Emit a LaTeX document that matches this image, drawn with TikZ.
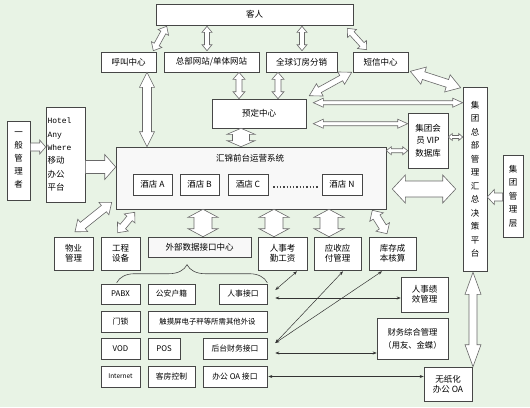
\documentclass[tikz,border=0pt]{standalone}
\usepackage{fontspec}
\setmainfont{Noto Sans CJK SC}
\newfontfamily\monof{Liberation Mono}
\usetikzlibrary{calc,decorations.pathreplacing,arrows.meta}

\definecolor{bgc}{RGB}{232,243,229}
\definecolor{edgec}{RGB}{70,70,70}
\definecolor{arrc}{RGB}{105,105,105}
\definecolor{sysfill}{RGB}{248,248,248}

\tikzset{
  box/.style={draw=edgec, fill=white, line width=0.6pt, inner sep=1pt, align=center,
    font=\fontsize{8.5pt}{10pt}\selectfont},
  smallbox/.style={box, font=\fontsize{7.8pt}{9.5pt}\selectfont},
  vbox/.style={box, font=\fontsize{8.5pt}{13.5pt}\selectfont},
  bigarr/.style={draw=arrc, fill=white, line width=0.6pt, line join=miter},
  thinarr/.style={draw=black!80, line width=0.5pt, {Stealth[length=4pt,width=3pt]}-{Stealth[length=4pt,width=3pt]}},
}

% double hollow arrow: #1 start, #2 end, #3 head length, #4 head half width, #5 shaft half width
\newcommand{\dblarr}[5]{%
 \coordinate (hpA) at ($(#1)!#3!(#2)$);
 \coordinate (hpB) at ($(#2)!#3!(#1)$);
 \draw[bigarr] (#1) -- ($(hpA)!#4!90:(#2)$) -- ($(hpA)!#5!90:(#2)$) -- ($(hpB)!#5!-90:(#1)$) -- ($(hpB)!#4!-90:(#1)$) -- (#2) -- ($(hpB)!#4!90:(#1)$) -- ($(hpB)!#5!90:(#1)$) -- ($(hpA)!#5!-90:(#2)$) -- ($(hpA)!#4!-90:(#2)$) -- cycle;}
% single hollow arrow: #1 tail, #2 tip
\newcommand{\sglarr}[5]{%
 \coordinate (hpB) at ($(#2)!#3!(#1)$);
 \draw[bigarr] ($(#1)!#5!90:(#2)$) -- ($(hpB)!#5!-90:(#1)$) -- ($(hpB)!#4!-90:(#1)$) -- (#2) -- ($(hpB)!#4!90:(#1)$) -- ($(hpB)!#5!90:(#1)$) -- ($(#1)!#5!-90:(#2)$) -- cycle;}

\begin{document}
\begin{tikzpicture}[x=1pt,y=-1pt]
\fill[bgc] (0,0) rectangle (530,407);
\useasboundingbox (0,0) rectangle (530,407);

% top row
\node[box, minimum width=197pt, minimum height=21pt] (guest) at (254.5,14.5) {客人};
\node[box, minimum width=55pt, minimum height=20pt] (hujiao) at (128.5,62) {呼叫中心};
\node[box, minimum width=95pt, minimum height=20pt] (wangzhan) at (211.5,62) {总部网站/单体网站};
\node[box, minimum width=71pt, minimum height=20pt] (quanqiu) at (301.5,62) {全球订房分销};
\node[box, minimum width=55pt, minimum height=20pt] (duanxin) at (380.5,62) {短信中心};
\node[box, minimum width=94pt, minimum height=29pt] (yuding) at (259,113.5) {预定中心};
\node[box, minimum width=40pt, minimum height=55pt, font=\fontsize{8.5pt}{12.5pt}\selectfont] (vip) at (428,140.5) {集团会\\员 VIP\\数据库};
\node[vbox, minimum width=24pt, minimum height=184pt] (hq) at (475,179) {集\\团\\总\\部\\管\\理\\汇\\总\\决\\策\\平\\台};
\node[vbox, minimum width=20pt, minimum height=82pt] (mgmt) at (513,196) {集\\团\\管\\理\\层};
\node[vbox, minimum width=23pt, minimum height=79pt, font=\fontsize{8.5pt}{13pt}\selectfont] (general) at (18.5,160.5) {一\\般\\管\\理\\者};
\node[box, minimum width=39pt, minimum height=95pt, text width=36pt, align=left, font=\fontsize{8.5pt}{13.3pt}\selectfont] (hotel) at (65.5,154.5) {{\monof\fontsize{8pt}{13.3pt}\selectfont Hotel}\\{\monof\fontsize{8pt}{13.3pt}\selectfont Any}\\{\monof\fontsize{8pt}{13.3pt}\selectfont Where}\\移动\\办公\\平台};

% main system box
\node[box, fill=sysfill, minimum width=270pt, minimum height=62pt] (sys) at (251,178) {};
\node[font=\fontsize{8.5pt}{10pt}\selectfont, inner sep=0pt] (systitle) at (250,158) {汇锦前台运营系统};
\node[box, minimum width=39pt, minimum height=21pt] (hA) at (152.5,184.5) {酒店 A};
\node[box, minimum width=39pt, minimum height=21pt] (hB) at (199.5,184.5) {酒店 B};
\node[box, minimum width=40pt, minimum height=21pt] (hC) at (248,184.5) {酒店 C};
\node[box, minimum width=40pt, minimum height=21pt] (hN) at (342,184.5) {酒店 N};
\draw[line width=1.3pt, dotted, edgec] ($(hC.east)+(5,2.5)$) -- ($(hN.west)+(-3,2.5)$);

% second level
\node[box, minimum width=39pt, minimum height=33pt] (wuye) at (73.5,253.5) {物业\\管理};
\node[box, minimum width=39pt, minimum height=33pt] (gongcheng) at (120.5,253.5) {工程\\设备};
\node[box, fill=sysfill, minimum width=103pt, minimum height=20pt] (waibu) at (199.5,247) {外部数据接口中心};
\node[box, minimum width=49pt, minimum height=33pt] (renshi) at (282.5,253.5) {人事考\\勤工资};
\node[box, minimum width=47pt, minimum height=33pt] (yingshou) at (337.5,253.5) {应收应\\付管理};
\node[box, minimum width=47pt, minimum height=33pt] (kucun) at (392.5,253.5) {库存成\\本核算};

% interfaces
\node[smallbox, minimum width=39pt, minimum height=20pt] (pabx) at (120.5,294) {PABX};
\node[smallbox, minimum width=47pt, minimum height=20pt] (gongan) at (171.5,294) {公安户籍};
\node[smallbox, minimum width=48pt, minimum height=20pt] (rsjk) at (243,294) {人事接口};
\node[smallbox, minimum width=39pt, minimum height=21pt] (mensuo) at (120.5,321.5) {门锁};
\node[smallbox, minimum width=119pt, minimum height=21pt, font=\fontsize{7.4pt}{9pt}\selectfont] (touch) at (207.5,321.5) {触摸屏电子秤等所需其他外设};
\node[smallbox, minimum width=39pt, minimum height=21pt] (vod) at (120.5,348.5) {VOD};
\node[smallbox, minimum width=32pt, minimum height=21pt] (pos) at (164,348.5) {POS};
\node[smallbox, minimum width=64pt, minimum height=21pt] (houtai) at (235,348.5) {后台财务接口};
\node[smallbox, minimum width=39pt, minimum height=21pt, font=\fontsize{6.5pt}{8pt}\selectfont] (internet) at (120.5,376.5) {Internet};
\node[smallbox, minimum width=47pt, minimum height=21pt] (kefang) at (171.5,376.5) {客房控制};
\node[smallbox, minimum width=64pt, minimum height=21pt] (oa) at (235,376.5) {办公 OA 接口};

% right lower boxes
\node[box, minimum width=47pt, minimum height=35pt] (jixiao) at (424.5,294.5) {人事绩\\效管理};
\node[box, minimum width=71pt, minimum height=41pt, font=\fontsize{8.3pt}{13pt}\selectfont] (caiwu) at (412.5,338.5) {财务综合管理\\（用友、金蝶）};
\node[box, minimum width=48pt, minimum height=34pt] (wuzhi) at (448,384) {无纸化\\办公 OA};

% brace
\coordinate (brL) at ($(pabx.north west)+(16,-1)$);
\coordinate (brR) at ($(rsjk.north east)+(0,-1)$);
\draw[edgec, line width=0.6pt, decorate, decoration={brace, amplitude=18pt, aspect=0.467}] (brL) -- (brR);

% ---------- big hollow arrows ----------
\coordinate (a1) at ($(guest.south west)+(11,1)$);
\coordinate (b1) at ($(hujiao.north east)+(-3,-1)$);
\dblarr{a1}{b1}{7pt}{6pt}{2.8pt}

\coordinate (a2) at ($(wangzhan.north)+(-4.5,-1)$);
\coordinate (b2) at ($(a2 |- guest.south)+(0,1)$);
\dblarr{b2}{a2}{6pt}{5pt}{2.5pt}

\coordinate (a3) at ($(quanqiu.north)+(0.5,-1)$);
\coordinate (b3) at ($(a3 |- guest.south)+(0,1)$);
\dblarr{b3}{a3}{6pt}{5pt}{2.5pt}

\coordinate (a4) at ($(guest.south east)+(-6,3)$);
\coordinate (b4) at ($(duanxin.north west)+(14,-2)$);
\dblarr{a4}{b4}{7pt}{6pt}{2.8pt}

\coordinate (a5) at ($(hujiao.south)+(18.5,0)$);
\coordinate (b5) at (a5 |- sys.north);
\dblarr{a5}{b5}{15pt}{7.5pt}{4.5pt}

\coordinate (a6) at ($(wangzhan.south)+(27.5,0)$);
\coordinate (b6) at (a6 |- yuding.north);
\dblarr{a6}{b6}{7pt}{6pt}{3pt}

\coordinate (a7) at ($(quanqiu.south)+(-23.5,0)$);
\coordinate (b7) at (a7 |- yuding.north);
\dblarr{a7}{b7}{7pt}{6pt}{3pt}

\coordinate (a8) at ($(duanxin.south west)+(-1,0)$);
\coordinate (b8) at ($(yuding.north east)+(3,-3)$);
\dblarr{a8}{b8}{12pt}{7pt}{3pt}

\coordinate (a9) at ($(duanxin.south east)+(2,-1)$);
\coordinate (b9) at ($(hq.north west)+(-2,1)$);
\dblarr{a9}{b9}{14pt}{9pt}{4pt}

\coordinate (a10) at ($(yuding.north east)+(7,4)$);
\coordinate (b10) at (a10 -| hq.west);
\dblarr{a10}{b10}{10pt}{4.5pt}{2pt}

\coordinate (a11) at ($(yuding.north east)+(7,25)$);
\coordinate (b11) at (a11 -| vip.west);
\dblarr{a11}{b11}{10pt}{4.5pt}{2pt}

\coordinate (a12) at ($(vip.east)+(0,-3.5)$);
\coordinate (b12) at (a12 -| hq.west);
\dblarr{a12}{b12}{4pt}{3.5pt}{1.5pt}

\coordinate (a13) at ($(yuding.south)+(-18,0)$);
\coordinate (b13) at (a13 |- sys.north);
\dblarr{a13}{b13}{6pt}{14pt}{8.5pt}

\coordinate (a14) at ($(sys.north east)+(0,4)$);
\coordinate (b14) at (a14 -| vip.west);
\dblarr{a14}{b14}{5pt}{4pt}{2pt}

\coordinate (a15) at ($(sys.east)+(6,11)$);
\coordinate (b15) at ($(a15 -| hq.west)+(-7,0)$);
\dblarr{a15}{b15}{13pt}{14pt}{8pt}

\coordinate (a16) at ($(mgmt.west)+(0,1)$);
\coordinate (b16) at (a16 -| hq.east);
\sglarr{a16}{b16}{7pt}{7.5pt}{4pt}

\coordinate (a17) at ($(general.east)+(0,-13.5)$);
\coordinate (b17) at (a17 -| hotel.west);
\sglarr{a17}{b17}{6pt}{7pt}{4pt}

\coordinate (a18) at ($(hotel.east)+(0,12.5)$);
\coordinate (b18) at (a18 -| sys.west);
\sglarr{a18}{b18}{11pt}{12.5pt}{6.5pt}

\coordinate (a19) at ($(sys.south west)+(-4,-7)$);
\coordinate (b19) at ($(wuye.north)+(1.5,-5)$);
\dblarr{a19}{b19}{10pt}{8pt}{4pt}

\coordinate (a20) at ($(sys.south west)+(19,3)$);
\coordinate (b20) at ($(gongcheng.north west)+(17,-4)$);
\dblarr{a20}{b20}{8pt}{7pt}{3.5pt}

\coordinate (a21) at ($(waibu.north)+(3.5,0)$);
\coordinate (b21) at (a21 |- sys.south);
\dblarr{b21}{a21}{8pt}{15pt}{9pt}

\coordinate (a22) at ($(renshi.north)+(-8.5,0)$);
\coordinate (b22) at (a22 |- sys.south);
\dblarr{b22}{a22}{8pt}{15pt}{9pt}

\coordinate (a23) at ($(yingshou.north)+(-8.5,0)$);
\coordinate (b23) at (a23 |- sys.south);
\dblarr{b23}{a23}{8pt}{15pt}{9pt}

\coordinate (a24) at ($(sys.south east)+(-14,1)$);
\coordinate (b24) at ($(kucun.north)+(-5.5,-3)$);
\dblarr{a24}{b24}{8pt}{8pt}{4pt}

\coordinate (a25) at ($(hq.south)+(-2,1)$);
\coordinate (b25) at (a25 |- wuzhi.north);
\dblarr{a25}{b25}{22pt}{8pt}{4pt}

% ---------- thin arrows ----------
\coordinate (t1) at ($(rsjk.east)+(8,-4)$);
\draw[thinarr] (t1) -- ($(renshi.south)+(14.5,1)$);
\coordinate (t2) at ($(rsjk.east)+(8,4)$);
\draw[thinarr] (t2) -- (t2 -| jixiao.west);
\coordinate (t3) at ($(houtai.east)+(8,-5.5)$);
\draw[thinarr] (t3) -- ($(yingshou.south)+(5.5,1)$);
\draw[thinarr] (t3) -- ($(kucun.south)+(-10.5,1)$);
\coordinate (t4) at ($(houtai.east)+(8,4.5)$);
\draw[thinarr] (t4) -- (t4 -| caiwu.west);
\coordinate (t5) at ($(oa.east)+(1,0)$);
\draw[thinarr] (t5) -- (t5 -| wuzhi.west);
\end{tikzpicture}
\end{document}
